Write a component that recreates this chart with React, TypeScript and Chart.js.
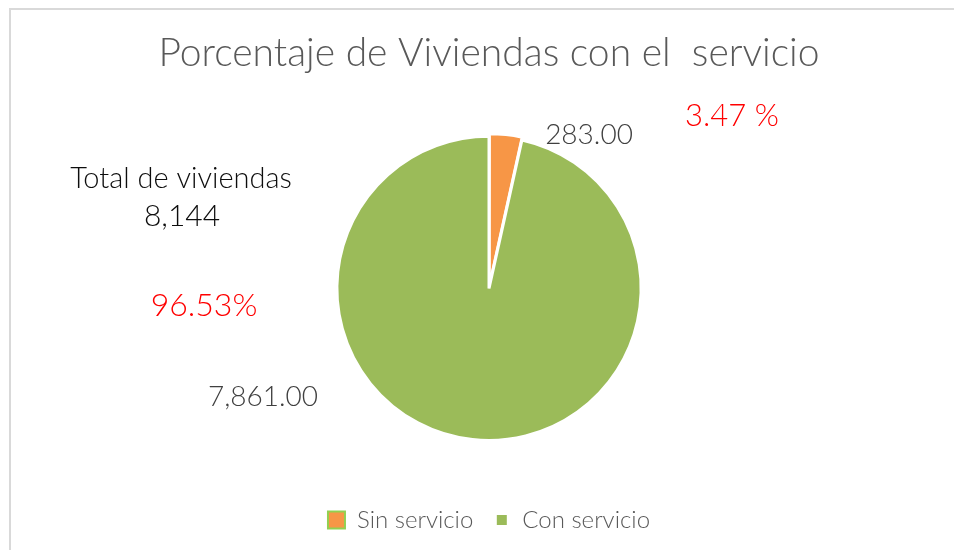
import React, { useEffect, useRef } from "react";
import { Chart, registerables } from "chart.js";
Chart.register(...registerables);

const categories = ["Sin servicio", "Con servicio"];
const values = [283, 7861];
const sliceColors = ["#f79646", "#9bbb59"];
const chartTitle = "Porcentaje de Viviendas con el  servicio";
const totalLabel = "Total de viviendas";

const FONT = "Lato, 'Open Sans', sans-serif";

const fmt = (v: number, d: number) =>
  v.toLocaleString("en-US", { minimumFractionDigits: d, maximumFractionDigits: d });

const annotations = {
  id: "annotations",
  beforeDraw(chart: any) {
    const ctx = chart.ctx;
    ctx.save();
    ctx.fillStyle = "#ffffff";
    ctx.fillRect(0, 0, chart.width, chart.height);
    ctx.strokeStyle = "#d9d9d9";
    ctx.lineWidth = 2;
    ctx.strokeRect(10, 9, chart.width + 20, chart.height + 20);
    ctx.restore();
  },
  afterDraw(chart: any) {
    const ctx = chart.ctx;
    const arc = chart.getDatasetMeta(0).data[1];
    if (!arc) return;
    const { x: cx, y: cy } = arc.getProps(["x", "y"], true);
    const total = values.reduce((a, b) => a + b, 0);
    const pct = values.map((v) => (v / total) * 100);
    ctx.save();
    ctx.textAlign = "center";
    ctx.textBaseline = "alphabetic";
    const put = (t: string, x: number, y: number, size: number, color: string) => {
      ctx.font = `300 ${size}px ${FONT}`;
      ctx.fillStyle = color;
      ctx.fillText(t, x, y);
    };
    put(fmt(values[0], 2), cx + 100, cy - 144, 28, "#404040");
    put(pct[0].toFixed(2) + " %", cx + 243, cy - 162, 31, "#ff0000");
    put(totalLabel, cx - 308, cy - 100, 29, "#0d0d0d");
    put(fmt(total, 0), cx - 307, cy - 62, 30, "#0d0d0d");
    put(pct[1].toFixed(2) + "%", cx - 285, cy + 28, 32, "#ff0000");
    put(fmt(values[1], 2), cx - 226, cy + 118, 28, "#404040");
    ctx.restore();
  },
};

export default function App() {
  const ref = useRef<HTMLCanvasElement | null>(null);
  useEffect(() => {
    if (!ref.current) return;
    const chart = new Chart(ref.current, {
      type: "pie",
      data: {
        labels: categories,
        datasets: [
          {
            data: values,
            backgroundColor: sliceColors,
            borderColor: "#ffffff",
            borderWidth: 3,
            offset: [6, 0],
          },
        ],
      },
      options: {
        animation: false,
        responsive: false,
        maintainAspectRatio: false,
        layout: { padding: { left: 100, right: 76, top: 0, bottom: 8 } },
        plugins: {
          title: {
            display: true,
            text: chartTitle,
            color: "#595959",
            font: { family: FONT, size: 39, weight: "300" as any, lineHeight: 1.2 },
            padding: { top: 30, bottom: 55 },
          },
          legend: {
            position: "bottom",
            title: {
              display: true,
              text: "",
              padding: { top: 42, bottom: 0 },
              font: { size: 1, lineHeight: 1 },
            },
            labels: {
              color: "#595959",
              font: { family: FONT, size: 24, weight: "300" as any },
              boxWidth: 17,
              boxHeight: 17,
              padding: 20,
              generateLabels: () =>
                categories.map((c, i) => ({
                  text: c,
                  fillStyle: sliceColors[i],
                  strokeStyle: i === 0 ? "#92d050" : "#ffffff",
                  lineWidth: i === 0 ? 2 : 7,
                  hidden: false,
                  index: i,
                  fontColor: "#595959",
                })),
            },
          },
          tooltip: { enabled: false },
        },
      },
      plugins: [annotations],
    });
    return () => chart.destroy();
  }, []);
  return (
    <div style={{ position: "fixed", left: 0, top: 0, width: 954, height: 550 }}>
      <canvas ref={ref} width={954} height={550} style={{ width: 954, height: 550, display: "block" }} />
    </div>
  );
}
